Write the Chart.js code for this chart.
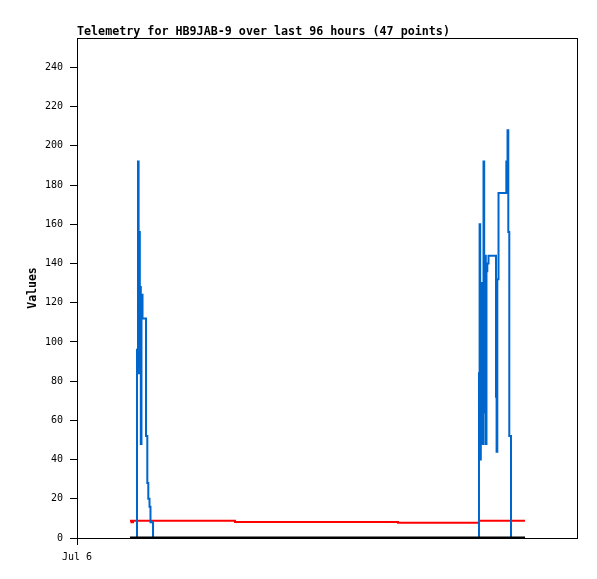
<!DOCTYPE html>
<html>
<head>
<title>Telemetry for HB9JAB-9</title>
<script src="https://cdn.jsdelivr.net/npm/chart.js"></script>
<style>body { margin: 0; background: #fff; }</style>
</head>
<body>
<canvas id="chart" width="597" height="579"></canvas>
<script>
const chartTitle = 'Telemetry for HB9JAB-9 over last 96 hours (47 points)';

// hours since Jul 6 00:00
const hours = [10.18, 10.46, 10.75, 11.52, 11.71, 11.83, 11.94, 12.06, 12.15, 12.25,
  12.38, 12.58, 13.25, 13.50, 13.69, 13.92, 14.11, 14.60, 30.34, 61.63,
  75.46, 77.18, 77.30, 77.41, 77.53, 77.65, 77.76, 77.88, 78.05, 78.18,
  78.34, 78.49, 78.62, 78.78, 79.01, 80.45, 80.56, 80.70, 80.93, 82.43,
  82.66, 82.81, 83.00, 83.33, 84.29, 85.06, 86.02];

const blueValues = [0, 0, 0, 96, 192, 84, 156, 90, 128, 48,
  124, 112, 52, 28, 20, 16, 8, 0, 0, 0,
  0, 84, 160, 40, 120, 64, 130, 48, 192, 64,
  144, 48, 136, 140, 144, 72, 44, 132, 176, 192,
  208, 156, 52, 0, 0, 0, 0];

const redValues = [8.8, 8.0, 8.8, 8.8, 8.8, 8.8, 8.8, 8.8, 8.8, 8.8,
  8.8, 8.8, 8.8, 8.8, 8.8, 8.8, 8.8, 8.8, 8.2, 7.8,
  7.8, 8.8, 8.8, 8.8, 8.8, 8.8, 8.8, 8.8, 8.8, 8.8,
  8.8, 8.8, 8.8, 8.8, 8.8, 8.8, 8.8, 8.8, 8.8, 8.8,
  8.8, 8.8, 8.8, 8.8, 8.8, 8.8, 8.8];

const blackValues = hours.map(() => 0);

const yTicks = [0, 20, 40, 60, 80, 100, 120, 140, 160, 180, 200, 220, 240];
const xTicks = [0];
const xTickLabels = ['Jul 6'];

const toPoints = vals => hours.map((h, i) => ({ x: h, y: vals[i] }));

const mono = '"DejaVu Sans Mono", monospace';

const framePlugin = {
  id: 'frame',
  afterDraw(chart) {
    const { ctx, chartArea: a } = chart;
    ctx.save();
    ctx.strokeStyle = '#000';
    ctx.lineWidth = 1;
    ctx.strokeRect(a.left + 0.5, a.top + 0.5, a.right - a.left, a.bottom - a.top);
    ctx.fillStyle = '#000';
    ctx.font = 'bold 11.7px ' + mono;
    ctx.textBaseline = 'alphabetic';
    ctx.fillText(chartTitle, a.left, a.top - 3);
    ctx.restore();
  }
};

const ctx = document.getElementById('chart').getContext('2d');
new Chart(ctx, {
  type: 'line',
  data: {
    datasets: [
      { label: 'black', data: toPoints(blackValues), borderColor: '#000', borderWidth: 3, stepped: true },
      { label: 'blue', data: toPoints(blueValues), borderColor: '#0066cc', borderWidth: 2, stepped: true },
      { label: 'red', data: toPoints(redValues), borderColor: '#ff0000', borderWidth: 2, stepped: true }
    ]
  },
  options: {
    responsive: false,
    animation: false,
    layout: { padding: { left: 0, right: 20, top: 38, bottom: 0 } },
    elements: { point: { radius: 0 }, line: { tension: 0 } },
    plugins: { legend: { display: false }, tooltip: { enabled: false } },
    scales: {
      x: {
        type: 'linear',
        min: 0,
        max: 96,
        afterBuildTicks: s => { s.ticks = xTicks.map(v => ({ value: v })); },
        afterFit: s => { s.height = 41; },
        ticks: {
          color: '#000',
          font: { family: mono, size: 10 },
          padding: 6,
          maxRotation: 0,
          callback: (v) => xTickLabels[xTicks.indexOf(v)]
        },
        grid: { drawOnChartArea: false, color: '#000', tickLength: 7 },
        border: { color: '#000' }
      },
      y: {
        min: 0,
        max: 255,
        afterBuildTicks: s => { s.ticks = yTicks.map(v => ({ value: v })); },
        afterFit: s => { s.width = 77; },
        ticks: { color: '#000', font: { family: mono, size: 10 }, padding: 7 },
        grid: { drawOnChartArea: false, color: '#000', tickLength: 7 },
        border: { color: '#000' },
        title: {
          display: true,
          text: 'Values',
          color: '#000',
          font: { family: mono, size: 11.5, weight: 'bold' },
          padding: { top: 26, bottom: 0 }
        }
      }
    }
  },
  plugins: [framePlugin]
});
</script>
</body>
</html>
